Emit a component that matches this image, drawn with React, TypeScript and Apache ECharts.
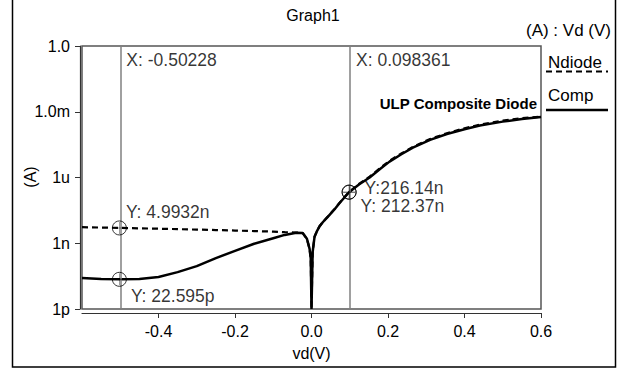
import React, { useEffect, useRef } from "react";
import * as echarts from "echarts";

const vd = [-0.6, -0.55, -0.5, -0.45, -0.4, -0.35, -0.3, -0.25, -0.2, -0.15, -0.1, -0.07, -0.04, -0.023, -0.012, -0.005, -0.002, 0, 0.003, 0.008, 0.015, 0.021, 0.03, 0.042, 0.06, 0.073, 0.098, 0.125, 0.152, 0.18, 0.204, 0.235, 0.265, 0.31, 0.354, 0.4, 0.44, 0.5, 0.55, 0.6];

const ndiode = [5.4e-9, 5.2e-9, 5.0e-9, 4.8e-9, 4.6e-9, 4.4e-9, 4.2e-9, 4.0e-9, 3.8e-9, 3.6e-9, 3.4e-9, 3.2e-9, 3.1e-9, 2.9e-9, 1.6e-9, 0.55e-9, 0.2e-9, 1e-12, 0.4e-9, 2.0e-9, 3.8e-9, 6.0e-9, 9.5e-9, 16e-9, 36e-9, 69e-9, 216e-9, 0.52e-6, 1.1e-6, 2.75e-6, 5.8e-6, 12.6e-6, 25e-6, 57e-6, 105e-6, 176e-6, 258e-6, 390e-6, 505e-6, 600e-6];

const comp = [26e-12, 23.5e-12, 22.6e-12, 23.5e-12, 29e-12, 48e-12, 90e-12, 0.21e-9, 0.45e-9, 0.95e-9, 1.7e-9, 2.4e-9, 3.0e-9, 2.9e-9, 1.6e-9, 0.55e-9, 0.2e-9, 1e-12, 0.4e-9, 2.0e-9, 3.8e-9, 5.9e-9, 9.3e-9, 15.7e-9, 35e-9, 67e-9, 212e-9, 0.49e-6, 1.0e-6, 2.5e-6, 5.3e-6, 11.5e-6, 23e-6, 52e-6, 96e-6, 160e-6, 235e-6, 355e-6, 465e-6, 575e-6];

const yTickValues = [1e-12, 1e-9, 1e-6, 1e-3, 1];
const yTickLabels = ["1p", "1n", "1u", "1.0m", "1.0"];

const cursorX = [-0.50228, 0.098361];
const cursorXLabels = ["X: -0.50228", "X: 0.098361"];
const cursorPoints = [
  [-0.50228, 4.9932e-9],
  [-0.50228, 22.595e-12],
  [0.098361, 216.14e-9],
  [0.098361, 212.37e-9],
];
const cursorYLabels = ["Y: 4.9932n", "Y: 22.595p", "Y:216.14n", "Y: 212.37n"];

const FONT = "'Liberation Sans', Arial, sans-serif";

export default function App() {
  const ref = useRef<HTMLDivElement>(null);
  useEffect(() => {
    document.body.style.margin = "0";
    const chart = echarts.init(ref.current!, null, { renderer: "svg" });
    const labelPos: number[][] = [
      [14, -17],
      [19, 15],
      [23, -6],
      [19, 12],
    ];
    chart.setOption({
      animation: false,
      backgroundColor: "#fff",
      textStyle: { fontFamily: FONT },
      grid: {
        left: 82,
        top: 46,
        width: 459,
        height: 263,
        show: true,
        borderColor: "#555",
        borderWidth: 1.5,
        backgroundColor: "transparent",
      },
      xAxis: {
        type: "value",
        min: -0.6,
        max: 0.6,
        interval: 0.2,
        offset: 4,
        name: "vd(V)",
        nameLocation: "middle",
        nameGap: 32,
        nameTextStyle: { color: "#000", fontSize: 16, fontFamily: FONT },
        axisLine: { show: true, onZero: false, lineStyle: { color: "#333", width: 1.2 } },
        axisTick: { show: true, length: 5, lineStyle: { color: "#333" } },
        axisLabel: {
          showMinLabel: false,
          margin: 10,
          color: "#000",
          fontSize: 16,
          fontFamily: FONT,
          formatter: (v: number) => v.toFixed(1),
        },
        splitLine: { show: false },
      },
      yAxis: {
        type: "log",
        logBase: 1000,
        min: 1e-12,
        max: 1,
        offset: 2,
        axisLine: { show: true, onZero: false, lineStyle: { color: "#333", width: 1.2 } },
        axisTick: { show: true, length: 5, lineStyle: { color: "#333" } },
        axisLabel: {
          margin: 10,
          color: "#000",
          fontSize: 16,
          fontFamily: FONT,
          formatter: (v: number) => {
            let best = 0;
            for (let i = 0; i < yTickValues.length; i++) {
              if (Math.abs(Math.log10(v) - Math.log10(yTickValues[i])) < Math.abs(Math.log10(v) - Math.log10(yTickValues[best]))) best = i;
            }
            return yTickLabels[best];
          },
        },
        splitLine: { show: false },
      },
      series: [
        {
          name: "Ndiode",
          type: "line",
          data: vd.map((x, i) => [x, ndiode[i]]),
          showSymbol: false,
          symbol: "none",
          clip: true,
          lineStyle: { color: "#000", width: 2.2, type: [6, 4] },
          z: 3,
        },
        {
          name: "Comp",
          type: "line",
          data: vd.map((x, i) => [x, comp[i]]),
          showSymbol: false,
          symbol: "none",
          clip: true,
          lineStyle: { color: "#000", width: 2.5 },
          z: 4,
          markLine: {
            silent: true,
            symbol: ["none", "none"],
            label: { show: false },
            lineStyle: { color: "#808080", width: 1.5, type: "solid" },
            data: cursorX.map((x) => ({ xAxis: x })),
          },
        },
        {
          name: "cursorX",
          type: "scatter",
          symbol: "circle",
          symbolSize: 0.1,
          data: cursorX.map((x, i) => ({
            value: [x, 1],
            label: {
              show: true,
              formatter: cursorXLabels[i],
              position: [7, 5],
              color: "#000",
              fontSize: 17.5,
              fontFamily: FONT,
            },
          })),
          itemStyle: { color: "rgba(0,0,0,0)" },
          z: 5,
        },
        {
          name: "cursorY",
          type: "scatter",
          symbol: "circle",
          symbolSize: 14,
          itemStyle: { color: "rgba(0,0,0,0)", borderColor: "#000", borderWidth: 1 },
          data: cursorPoints.map((p, i) => ({
            value: p,
            label: {
              show: true,
              formatter: cursorYLabels[i],
              position: labelPos[i],
              color: "#000",
              fontSize: 17.5,
              fontFamily: FONT,
            },
          })),
          z: 6,
        },
        {
          name: "cursorCross",
          type: "scatter",
          symbol: "path://M-0.4,-10 h0.8 v20 h-0.8 z M-10,-0.4 h20 v0.8 h-20 z",
          symbolSize: 12,
          itemStyle: { color: "#000" },
          data: cursorPoints,
          z: 6,
        },
      ],
      graphic: [
        {
          type: "rect",
          shape: { x: 12.5, y: -2, width: 603, height: 369 },
          style: { fill: "none", stroke: "#000", lineWidth: 1.5 },
          silent: true,
        },
        {
          type: "text",
          x: 30,
          y: 177,
          rotation: Math.PI / 2,
          style: { text: "(A)", fill: "#000", font: `16px ${FONT}`, textAlign: "center", textVerticalAlign: "middle" },
        },
        {
          type: "text",
          x: 313,
          y: 15,
          style: { text: "Graph1", fill: "#000", font: `16px ${FONT}`, textAlign: "center", textVerticalAlign: "middle" },
        },
        {
          type: "text",
          x: 611,
          y: 30,
          style: { text: "(A) : Vd (V)", fill: "#000", font: `17px ${FONT}`, textAlign: "right", textVerticalAlign: "middle" },
        },
        {
          type: "text",
          x: 548,
          y: 62,
          style: { text: "Ndiode", fill: "#000", font: `17px ${FONT}`, textAlign: "left", textVerticalAlign: "middle" },
        },
        {
          type: "line",
          shape: { x1: 546, y1: 71.5, x2: 608, y2: 71.5 },
          style: { stroke: "#000", lineWidth: 2.2, lineDash: [6, 4] },
        },
        {
          type: "text",
          x: 548,
          y: 95,
          style: { text: "Comp", fill: "#000", font: `17px ${FONT}`, textAlign: "left", textVerticalAlign: "middle" },
        },
        {
          type: "line",
          shape: { x1: 546, y1: 110, x2: 608, y2: 110 },
          style: { stroke: "#000", lineWidth: 2.5 },
        },
        {
          type: "text",
          x: 537,
          y: 103,
          style: { text: "ULP Composite Diode", fill: "#000", font: `bold 15px ${FONT}`, textAlign: "right", textVerticalAlign: "middle" },
        },
      ],
    });
    return () => chart.dispose();
  }, []);
  return <div ref={ref} style={{ position: "absolute", left: 0, top: 0, width: 627, height: 372, background: "#fff" }} />;
}
